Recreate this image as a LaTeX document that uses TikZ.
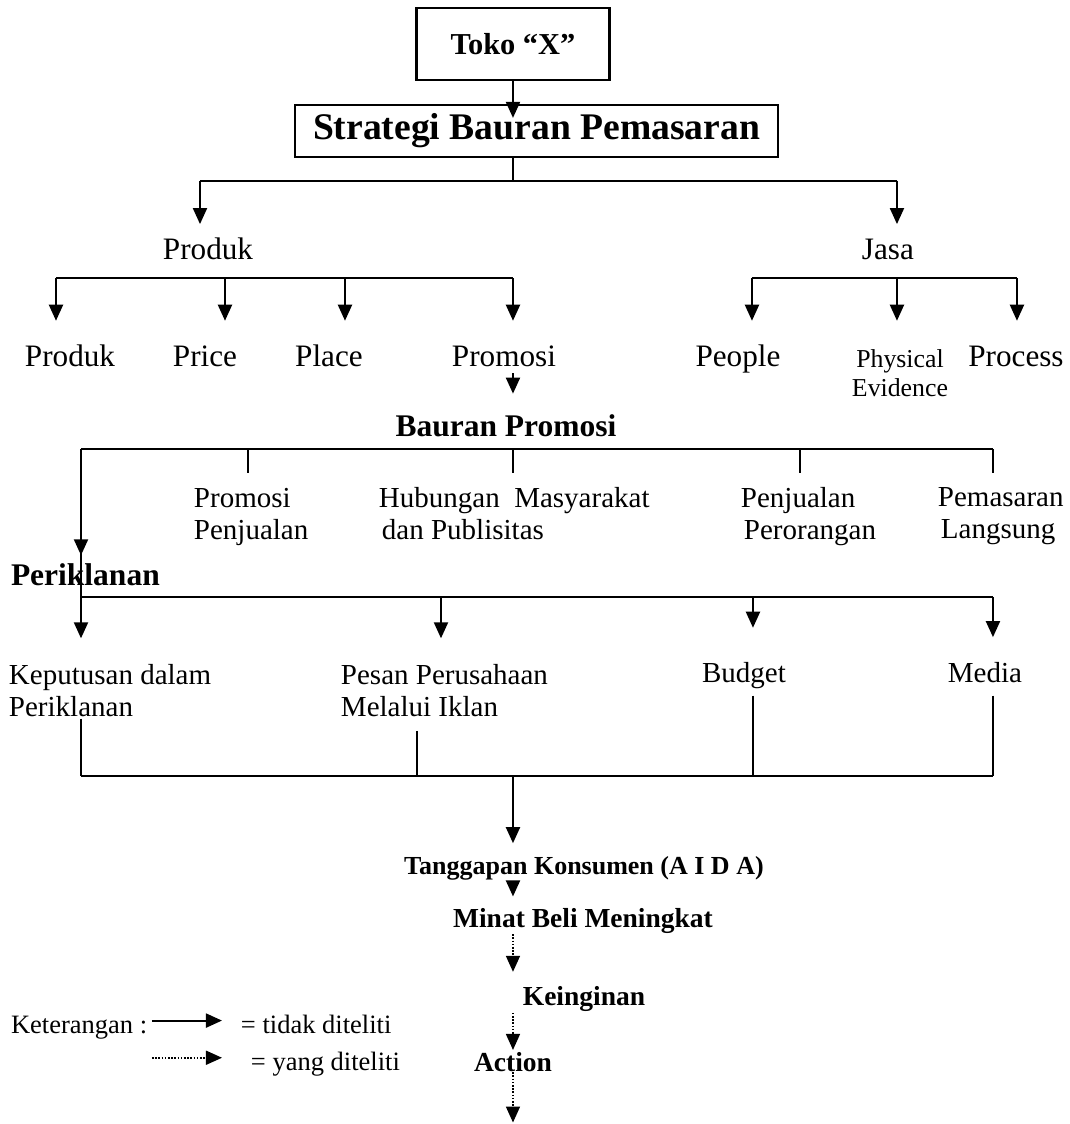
\documentclass[tikz,border=0pt]{standalone}
\usepackage{fontspec}
\setmainfont{Liberation Serif}
\usetikzlibrary{arrows.meta}

\begin{document}
\begin{tikzpicture}[x=0.5pt,y=-0.531pt,line width=1pt,
    arr/.style={-{Triangle[width=7pt,length=8pt]}},
    dotarr/.style={line width=0.8pt,dash pattern=on 0.8pt off 0.8pt,-{Triangle[width=7pt,length=8pt]}},
    box/.style={draw,line width=1.1pt,inner sep=0pt},
    txt/.style={inner sep=0pt,anchor=base,font=\fontsize{15.6}{18}\selectfont},
    sub/.style={inner sep=0pt,anchor=north west,align=left,font=\fontsize{14.5}{16}\selectfont},
    head/.style={inner sep=0pt,font=\fontsize{15.75}{18}\selectfont\bfseries},
    res/.style={inner sep=0pt,anchor=base,font=\fontsize{13.75}{16}\selectfont\bfseries},
    note/.style={inner sep=0pt,anchor=base west,font=\fontsize{13.25}{15}\selectfont}]

    \useasboundingbox (0,0) rectangle (1070,1058.4);

    \node[box,minimum width=96.5pt,minimum height=36pt,font=\fontsize{15.2}{17}\selectfont\bfseries] (toko) at (513,41.4) {Toko “X”};
    \node[box,minimum width=241.5pt,minimum height=26pt,font=\fontsize{18.8}{21}\selectfont\bfseries] (strategi) at (536.5,123.4) {Strategi Bauran Pemasaran};
    \coordinate (tokotip) at (513,111);
    \draw[arr] (toko.south) -- (tokotip);

    % produk / jasa
    \coordinate (b1) at (513,170);
    \coordinate (b1L) at (200,170);
    \coordinate (b1R) at (897,170);
    \node[txt] (produkA) at (208,244) {Produk};
    \node[txt] (jasa) at (888,244) {Jasa};
    \draw (strategi.south -| b1) -- (b1);
    \draw (b1L) -- (b1R);
    \draw[arr,shorten >=6.2pt] (b1L) -- (b1L |- produkA.north);
    \draw[arr,shorten >=6.2pt] (b1R) -- (b1R |- produkA.north);

    \node[txt] (produkB) at (70,345) {Produk};
    \node[txt] (price) at (205,345) {Price};
    \node[txt] (place) at (329,345) {Place};
    \node[txt] (promosi) at (504,345) {Promosi};
    \node[txt] (people) at (738,345) {People};
    \node[inner sep=0pt,anchor=north,align=center,font=\fontsize{12.9}{14.5}\selectfont] (physical) at (900,328.5) {Physical\\Evidence};
    \node[txt] (process) at (1016,345) {Process};

    \coordinate (pb1) at (56,262);
    \coordinate (pb2) at (225,262);
    \coordinate (pb3) at (345,262);
    \coordinate (pb4) at (513,262);
    \coordinate (jb1) at (752,262);
    \coordinate (jb2) at (897,262);
    \coordinate (jb3) at (1017,262);
    \draw (pb1) -- (pb4);
    \draw (jb1) -- (jb3);
    \draw[arr,shorten >=11.5pt] (pb1) -- (pb1 |- people.north);
    \draw[arr,shorten >=11.5pt] (pb2) -- (pb2 |- people.north);
    \draw[arr,shorten >=11.5pt] (pb3) -- (pb3 |- people.north);
    \draw[arr,shorten >=11.5pt] (pb4) -- (pb4 |- people.north);
    \draw[arr,shorten >=11.5pt] (jb1) -- (jb1 |- people.north);
    \draw[arr,shorten >=11.5pt] (jb2) -- (jb2 |- people.north);
    \draw[arr,shorten >=11.5pt] (jb3) -- (jb3 |- people.north);

    % bauran promosi
    \node[head,anchor=base] (bauran) at (506,411) {Bauran Promosi};
    \draw[arr,shorten <=2.7pt,shorten >=10pt] (promosi.south -| pb4) -- (pb4 |- bauran.north);

    \coordinate (bb0) at (81,423);
    \coordinate (bb1) at (248,423);
    \coordinate (bb2) at (513,423);
    \coordinate (bb3) at (800,423);
    \coordinate (bb4) at (993,423);
    \node[sub] (promjual) at (193,458.4) {Promosi\\Penjualan};
    \node[sub] (humas) at (378,458.4) {Hubungan\ \ Masyarakat\\\hspace*{1.5pt}dan Publisitas};
    \node[sub] (perorangan) at (740,458.4) {Penjualan\\\hspace*{1.5pt}Perorangan};
    \node[sub] (langsung) at (937,458.4) {Pemasaran\\\hspace*{1.5pt}Langsung};
    \draw (bb0) -- (bb4);
    \draw[shorten >=7pt] (bb1) -- (bb1 |- promjual.north);
    \draw[shorten >=7pt] (bb2) -- (bb2 |- humas.north);
    \draw[shorten >=7pt] (bb3) -- (bb3 |- perorangan.north);
    \draw[shorten >=7pt] (bb4) -- (bb4 |- langsung.north);

    % periklanan
    \node[head,anchor=base west] (iklan) at (10,551) {Periklanan};
    \coordinate (kb0) at (81,562);
    \coordinate (kb1) at (441,562);
    \coordinate (kb2) at (753,562);
    \coordinate (kb3) at (993,562);
    \draw (bb0) -- (kb0);
    \draw[arr,shorten >=3.5pt] (bb0) -- (bb0 |- iklan.north);
    \draw (kb0) -- (kb3);

    \node[sub] (keputusan) at (8,624.6) {Keputusan dalam\\Periklanan};
    \node[sub] (pesan) at (340,624.6) {Pesan Perusahaan\\Melalui Iklan};
    \node[txt,font=\fontsize{14.5}{16}\selectfont] (budget) at (744,643) {Budget};
    \node[txt,font=\fontsize{14.5}{16}\selectfont] (media) at (985,643) {Media};
    \draw[arr,shorten >=12.5pt] (kb0) -- (kb0 |- keputusan.north);
    \draw[arr,shorten >=12.5pt] (kb1) -- (kb1 |- pesan.north);
    \draw[arr,shorten >=17pt] (kb2) -- (kb2 |- budget.north);
    \draw[arr,shorten >=12.3pt] (kb3) -- (kb3 |- media.north);

    \coordinate (db0) at (81,730.7);
    \coordinate (db1) at (417,730.7);
    \coordinate (db2) at (753,730.7);
    \coordinate (db3) at (993,730.7);
    \coordinate (dbc) at (513,730.7);
    \draw[shorten <=0.5pt] (keputusan.south -| db0) -- (db0);
    \draw[shorten <=6.6pt] (pesan.south -| db1) -- (db1);
    \draw[shorten <=2.7pt] (budget.south -| db2) -- (db2);
    \draw[shorten <=5.8pt] (media.south -| db3) -- (db3);
    \draw (db0) -- (db3);

    % tanggapan konsumen
    \node[res,font=\fontsize{13}{15}\selectfont\bfseries] (aida) at (584,823) {Tanggapan Konsumen (A I D A)};
    \node[res] (minat) at (583,873) {Minat Beli Meningkat};
    \node[res] (ingin) at (584,947) {Keinginan};
    \node[res] (action) at (513,1008.5) {Action};
    \coordinate (endtip) at (513,1057);
    \draw[arr,shorten >=5.9pt] (dbc) -- (dbc |- aida.north);
    \draw[arr,shorten >=5.3pt] (aida.south -| dbc) -- (dbc |- minat.north);
    \draw[dotarr,shorten >=6.9pt] (minat.south -| dbc) -- (dbc |- ingin.north);
    \draw[dotarr,shorten >=0.5pt] (ingin.south -| dbc) -- (dbc |- action.north);
    \draw[dotarr] (action.south -| dbc) -- (endtip);

    % keterangan
    \node[note] (keter) at (10,973) {Keterangan :};
    \node[note] (tidak) at (240,973) {= tidak diteliti};
    \node[note] (yang) at (250,1008) {= yang diteliti};
    \coordinate (lgA) at (152,961);
    \coordinate (lgB) at (222,961);
    \coordinate (lgC) at (152,996);
    \coordinate (lgD) at (222,996);
    \draw[arr] (lgA) -- (lgB);
    \draw[dotarr] (lgC) -- (lgD);
\end{tikzpicture}
\end{document}
